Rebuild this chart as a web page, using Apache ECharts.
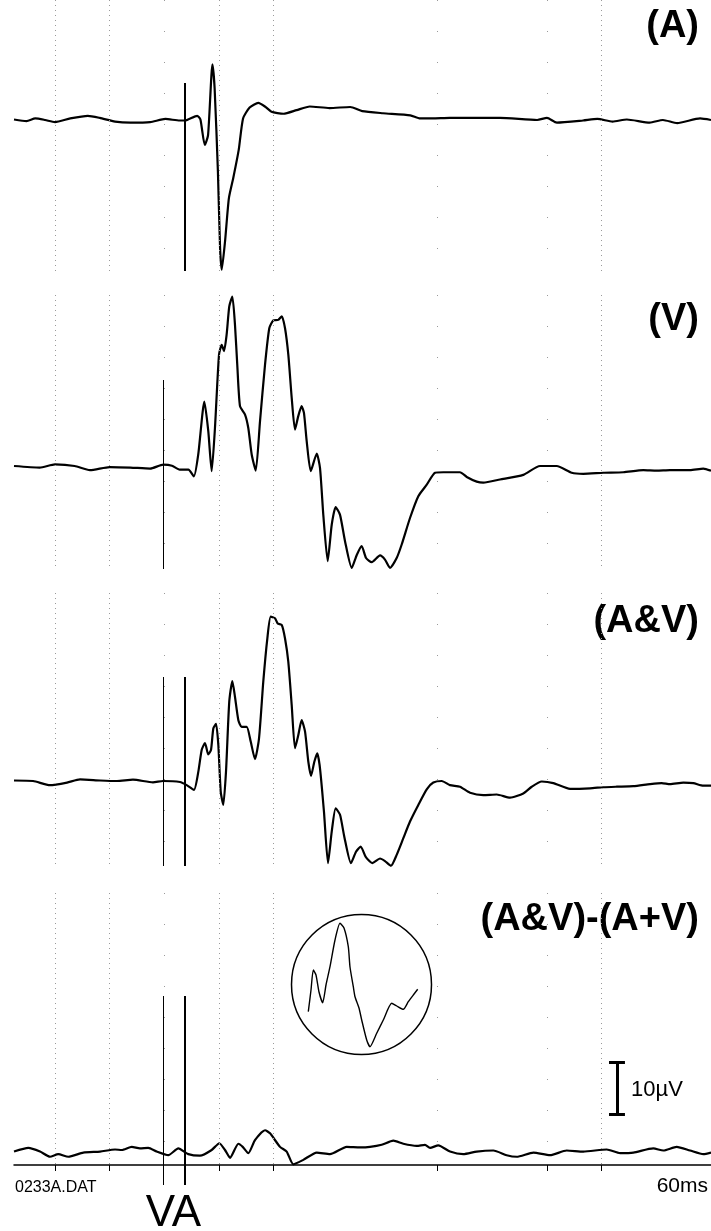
<!DOCTYPE html>
<html><head><meta charset="utf-8">
<script src="https://cdn.jsdelivr.net/npm/echarts@6/dist/echarts.min.js"></script>
<style>html,body{margin:0;padding:0;background:#fff}#c{width:711px;height:1231px}</style>
</head><body><div id="c"></div>
<script>
// ---- data (time in ms, amplitude in µV) ----
const tA = [-3.75,-2.6,-1.8,-0.9,0,1.4,3.0,4.1,5.5,6.9,8.7,10.1,11.4,11.9,13.0,13.3,13.7,14.0,14.4,14.6,14.9,15.1,15.25,15.55,15.9,16.3,16.8,17.2,17.8,18.6,19.2,19.8,20.9,22.1,23.3,25.1,27.0,28.1,30.0,32.5,33.4,34.5,36.1,40.7,44.1,45.0,45.9,48.3,49.6,51.0,52.3,54.4,55.6,56.9,59.0,60.0];
const vA = [0.1,-0.2,0.3,0,-0.4,0.3,0.8,0.4,-0.3,-0.5,-0.4,0.2,-0.1,-0.1,0.8,0.1,-4.8,-2.9,10.7,6.1,-9.9,-24.7,-28.8,-23.4,-15.1,-11.2,-5.8,0.3,2.4,3.3,2.6,1.6,1.2,1.9,2.6,2.3,2.5,1.7,1.3,0.9,0.3,0.3,0.4,0.4,0,0.4,-0.5,-0.1,0.2,-0.3,0.1,-0.5,0,-0.6,0.3,0];

const tV = [-3.75,-1.4,0,1.8,3.2,5.0,6.9,8.7,9.9,10.7,11.4,12.2,12.7,13.1,13.66,14.02,14.33,14.63,15.0,15.25,15.46,15.7,15.94,16.22,16.46,16.67,16.92,17.38,17.68,17.99,18.36,18.75,19.21,19.6,19.97,20.42,20.74,21.04,21.34,21.65,21.95,22.25,22.56,22.77,23.02,23.39,23.94,24.24,24.54,24.94,25.31,25.67,26.07,26.53,27.14,27.6,28.05,28.45,28.97,29.73,30.18,30.64,31.25,31.71,32.47,33.23,34.0,34.76,35.52,37.04,37.66,38.57,39.17,40.7,42.83,44.36,45.89,47.26,48.32,50.15,51.98,53.81,55.03,56.25,58.08,59.3,60];
const vV = [0,-0.3,0.3,0,-0.8,-0.2,-0.3,-0.5,0.25,0.05,-0.7,-0.7,-2.0,2.2,12.4,6.7,-1.0,7.3,21.4,23.3,22.1,25.3,30.7,32.6,27.2,19.5,11.5,9.9,7.3,2.2,-0.9,8.6,19.5,26.5,28.0,28.1,28.8,26.5,21.4,13.1,7.0,9.6,11.5,10.2,4.8,-1.0,2.4,-0.4,-9.4,-18.3,-11.3,-7.9,-9.4,-14.5,-19.6,-17.1,-15.4,-17.7,-18.5,-17.2,-18.0,-19.6,-17.7,-15.1,-10.0,-5.8,-3.6,-1.3,-1.2,-1.2,-2.1,-3.0,-3.2,-2.6,-1.7,0,0,-1.3,-1.5,-1.3,-1.2,-0.8,-0.9,-0.8,-0.8,-0.5,-0.9];

const tAV = [-3.75,-2.0,-0.46,1.1,2.29,4.12,5.67,7.13,8.96,9.88,11.43,12.05,12.71,13.11,13.42,13.72,14.02,14.27,14.48,14.73,14.94,15.16,15.39,15.64,15.94,16.22,16.46,16.77,17.07,17.53,17.9,18.29,18.66,19.05,19.42,19.73,20.12,20.37,20.74,21.04,21.34,21.65,21.95,22.25,22.56,22.87,23.17,23.42,23.72,23.99,24.24,24.6,24.97,25.31,25.67,26.07,26.46,27.07,27.53,27.96,28.42,29.02,29.73,30.18,30.73,31.25,31.86,32.47,33.23,34.0,34.6,35.37,36.13,37.04,37.96,39.17,40.4,41.62,42.83,43.6,44.52,45.58,47.11,48.93,50.15,51.38,52.9,54.42,55.49,56.25,57.47,58.38,59.3,60];
const vAV = [0.1,0,-0.8,-0.3,0.3,0.1,0,0.25,-0.25,0,-0.2,-0.8,-1.7,1.8,6.0,7.3,5.1,6.0,10.1,11.0,6.9,-2.1,-4.6,1.8,15.3,19.2,16.2,11.7,10.4,10.4,7.6,4.2,8.2,19.1,27.4,31.6,31.3,30.3,30.0,27.4,22.9,14.6,6.3,8.8,11.7,9.5,3.7,1.0,3.7,5.3,2.4,-5.9,-15.8,-9.75,-5.25,-6.5,-10.7,-15.8,-13.6,-12.6,-14.6,-15.8,-14.9,-15.4,-16.3,-14.2,-11.0,-7.8,-4.6,-1.6,-0.3,0,-0.8,-1.1,-2.25,-2.7,-2.6,-3.2,-2.4,-1.1,-0.1,-0.4,-1.5,-1.4,-1.2,-1.1,-1.0,-0.6,-0.4,-0.6,-0.3,-0.4,-0.9,-0.9];

const tD = [-3.75,-2.44,-1.37,-0.46,0.3,1.22,2.59,4.12,5.49,6.1,7.02,7.77,8.53,9.3,10.36,11.28,12.19,13.26,14.33,15.03,15.55,16.01,16.77,17.17,17.68,18.29,19.21,19.67,20.58,21.19,21.8,22.71,23.94,25.15,26.68,27.9,28.81,29.88,30.94,31.86,33.08,33.84,34.3,35.06,36.13,37.34,38.57,40.09,41.31,42.23,43.75,45.28,46.8,48.32,50.46,51.68,52.9,54.72,55.64,56.86,58.08,59.3,60];
const vD = [-0.3,0.4,-0.3,-1.3,-0.8,-1.3,-0.5,-0.3,0.1,0,0.6,0.3,0.4,-0.3,-1.0,0.3,-0.8,-1.1,0,1.3,0,-1.5,1.2,0.6,-0.6,1.9,3.8,3.2,0.6,-0.3,-2.75,-1.9,-0.5,-0.8,0.6,0.5,0.6,1.0,1.8,1.2,0.8,1.0,0.4,0.9,-0.3,-0.8,-0.3,-0.1,-1.0,-1.3,-0.5,-1.0,-0.1,-0.3,0.1,-0.6,-0.5,0.3,-0.1,0.6,-0.1,-0.8,-0.5];

// magnified inset waveform (arbitrary inset units)
const insetU = [8.3,11,13.3,16,19,22.7,26,30,35,40,44,48.3,50,53.3,55,59,61.7,66.7,70,76.7,83.3,91.7,96.7,103.3,108.3,113.3,117.7];
const insetW = [43.3,65,85,80,63,52.3,70,88.3,115,131.7,127,108.3,88,68.3,58.3,47,35,15,8.3,21.7,35,51.7,49,45.7,53.3,60,65.7];

const stimV = 9.9, stimA = 11.9;            // stimulus onsets (ms)
const gridDense = [0, 5, 15, 20, 50, 60];     // dotted time grid (ms)
const gridSparse = [10, 35, 45];
const axisTicks = [0, 5, 15, 20, 35, 45, 50, 60];
const panelLabels = ['(A)', '(V)', '(A&V)', '(A&V)-(A+V)'];
const scaleUv = 10, scaleT = 51.4, scaleFrom = 6.9;
const X_MIN = -3.75, X_MAX = 60;

// ---- layout (pixels) ----
const PX_PER_UV = 5.2;
const FONT = "'Liberation Sans', Arial, sans-serif";
const panels = [
  {t: tA, v: vA, top: 0, bottom: 273, dotBottom: 272, base: 120, labelY: 27,
   stims: [[stimA, 83, 271, 2]]},
  {t: tV, v: vV, top: 295, bottom: 571, dotBottom: 567, base: 466, labelY: 320,
   stims: [[stimV, 380, 569, 1]]},
  {t: tAV, v: vAV, top: 593, bottom: 868, dotBottom: 864, base: 781, labelY: 621.5,
   stims: [[stimV, 677, 866, 1], [stimA, 677, 866, 2]]},
  {t: tD, v: vD, top: 893, bottom: 1187, dotBottom: 1165, base: 1150, labelY: 920,
   stims: [[stimV, 996, 1185, 1], [stimA, 996, 1185, 2]]}
];
const AXIS_Y = 1165;

const grids = [], xAxes = [], yAxes = [], series = [];
const zip = (a, b) => a.map((x, i) => [x, b[i]]);

panels.forEach((p, i) => {
  const h = p.bottom - p.top;
  const uv = px => (p.base - px) / PX_PER_UV;   // pixel row -> µV on this panel
  grids.push({left: 14, right: 0, top: p.top, height: h});
  const isLast = i === panels.length - 1;
  xAxes.push({
    gridIndex: i, type: 'value', min: X_MIN, max: X_MAX, show: isLast,
    position: 'bottom', offset: isLast ? AXIS_Y - p.bottom : 0,
    axisLine: {show: true, onZero: false, lineStyle: {color: '#000', width: 1.5}},
    axisTick: {show: true, customValues: axisTicks, length: 6, lineStyle: {color: '#000', width: 1}},
    axisLabel: {show: true, customValues: [60], formatter: v => v + 'ms', align: 'right',
      fontSize: 21, color: '#000', fontFamily: FONT, margin: 11, padding: [0, 3, 0, 0]},
    splitLine: {show: false}
  });
  yAxes.push({
    gridIndex: i, type: 'value', show: false,
    max: uv(p.top), min: uv(p.bottom),
    splitLine: {show: false}
  });
  const ml = [];
  const dot = (x, dash) => {
    const ls = {color: '#9a9a9a', width: 1, type: dash};
    ml.push([{coord: [x, uv(p.top)], lineStyle: ls}, {coord: [x, uv(p.dotBottom)], lineStyle: ls}]);
  };
  gridDense.forEach(x => dot(x, [1, 4]));
  gridSparse.forEach(x => dot(x, [1, 30]));
  p.stims.forEach(s => {
    const ls = {color: '#000', width: s[3], type: 'solid'};
    ml.push([{coord: [s[0], uv(s[1])], lineStyle: ls}, {coord: [s[0], uv(s[2])], lineStyle: ls}]);
  });
  if (isLast) {
    const ls = {color: '#000', width: 3, type: 'solid'};
    const to = scaleFrom + scaleUv;
    ml.push([{coord: [scaleT, scaleFrom], lineStyle: ls}, {coord: [scaleT, to], lineStyle: ls}]);
    ml.push([{coord: [scaleT - 0.73, scaleFrom], lineStyle: ls}, {coord: [scaleT + 0.73, scaleFrom], lineStyle: ls}]);
    ml.push([{coord: [scaleT - 0.73, to], lineStyle: ls}, {coord: [scaleT + 0.73, to], lineStyle: ls}]);
  }
  series.push({
    type: 'line', xAxisIndex: i, yAxisIndex: i, data: zip(p.t, p.v),
    showSymbol: false, smooth: 0.2, clip: false,
    lineStyle: {color: '#000', width: 2.2},
    markLine: {silent: true, symbol: ['none', 'none'], label: {show: false}, animation: false, data: ml}
  });
});

// inset grid
grids.push({left: 300, top: 915, width: 125, height: 140});
xAxes.push({gridIndex: 4, type: 'value', min: 0, max: 125, show: false});
yAxes.push({gridIndex: 4, type: 'value', min: 0, max: 140, show: false, splitLine: {show: false}});
series.push({type: 'line', xAxisIndex: 4, yAxisIndex: 4, data: zip(insetU, insetW),
  showSymbol: false, smooth: 0.2, lineStyle: {color: '#000', width: 1.4}});

const graphic = panels.map((p, i) => ({
  type: 'text', x: 699, y: p.labelY,
  style: {text: panelLabels[i], fontSize: 38, fontWeight: 'bold', fontFamily: FONT,
    fill: '#000', align: 'right', verticalAlign: 'middle'}
}));
graphic.push(
  {type: 'circle', shape: {cx: 361.5, cy: 984.5, r: 70}, style: {fill: 'none', stroke: '#000', lineWidth: 1.5}},
  {type: 'text', x: 15, y: 1188, style: {text: '0233A.DAT', fontSize: 16, fontFamily: FONT, fill: '#000', align: 'left', verticalAlign: 'middle'}},
  {type: 'text', x: 173.5, y: 1214, style: {text: 'VA', fontSize: 44, fontFamily: FONT, fill: '#000', align: 'center', verticalAlign: 'middle'}},
  {type: 'text', x: 631, y: 1089.5, style: {text: '10µV', fontSize: 22, fontFamily: FONT, fill: '#000', align: 'left', verticalAlign: 'middle'}}
);

const chart = echarts.init(document.getElementById('c'), null, {renderer: 'canvas'});
chart.setOption({
  animation: false,
  backgroundColor: '#fff',
  grid: grids, xAxis: xAxes, yAxis: yAxes, series: series, graphic: graphic
});
</script></body></html>
